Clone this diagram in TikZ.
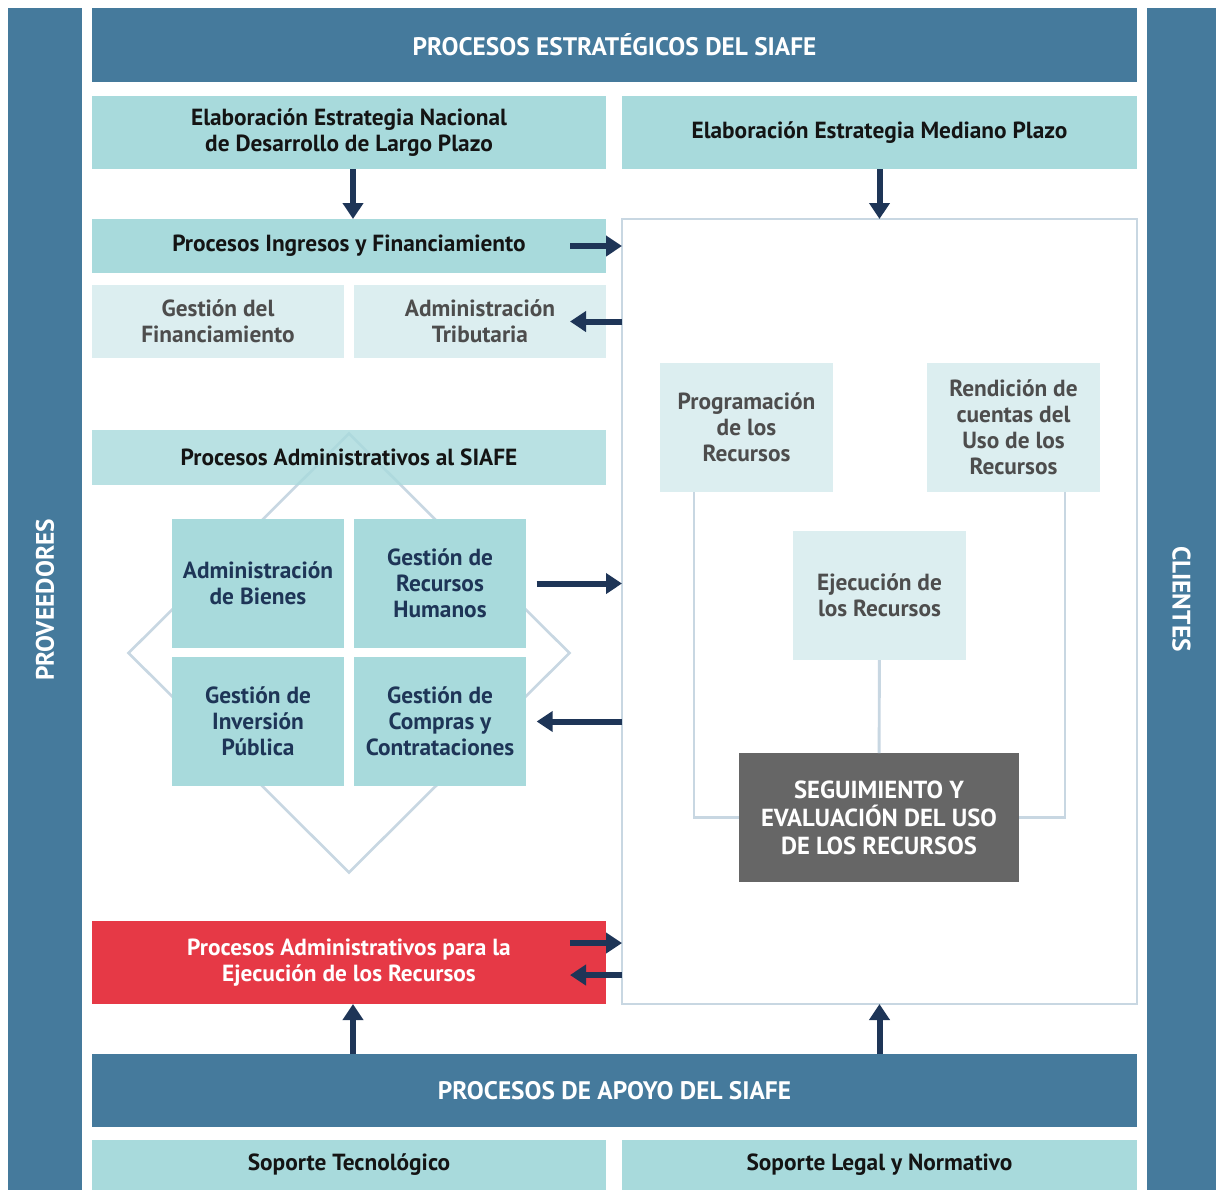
\documentclass[tikz,border=0pt]{standalone}
\usepackage{fontspec}
\setmainfont{PT Sans}
\usetikzlibrary{positioning, shapes.geometric, arrows.meta}
\definecolor{cBanda}{RGB}{69,122,156}
\definecolor{cTurq}{RGB}{168,218,220}
\definecolor{cPalido}{RGB}{220,238,240}
\definecolor{cGrisTxt}{RGB}{77,77,77}
\definecolor{cNavy}{RGB}{30,53,87}
\definecolor{cRojo}{RGB}{230,57,70}
\definecolor{cGrisCaja}{RGB}{102,102,102}
\definecolor{cMarco}{RGB}{200,215,226}
\definecolor{cNegro}{RGB}{20,20,20}

\begin{document}
\begin{tikzpicture}[
  x=0.75pt, y=-0.75pt,
  caja/.style 2 args={rectangle, inner sep=0pt, outer sep=0pt,
    minimum width=#1*0.75pt, minimum height=#2*0.75pt, align=center},
  texto/.style={font=\fontsize{17.5}{19.5}\selectfont\bfseries},
  rotulo/.style={text=white, font=\fontsize{19}{21}\selectfont\bfseries},
  banda/.style={fill=cBanda, rotulo},
  turq/.style={fill=cTurq, text=cNegro, texto},
  azulado/.style={fill=cTurq, text=cNavy, texto},
  palido/.style={fill=cPalido, text=cGrisTxt, texto},
  rojo/.style={fill=cRojo, text=white, texto},
  gris/.style={fill=cGrisCaja, text=white, font=\fontsize{18.5}{21}\selectfont\bfseries},
  marco/.style={draw=cMarco, line width=2.2pt, fill=white},
  rombo/.style={diamond, draw=cMarco, line width=2pt, inner sep=0pt,
    minimum width=442*0.75pt, minimum height=440*0.75pt},
  enlace/.style={draw=cMarco, line width=2.2pt},
  flecha/.style={draw=cNavy, line width=4.5pt, -{Triangle[width=15pt,length=12pt]}}
]
  \useasboundingbox (0,0) rectangle (1216,1190);

  \node[caja={74}{1182}, fill=cBanda] (prov) at (45,599) {};
  \node[rotate=90, rotulo] at ([yshift=-0.75pt]prov) {PROVEEDORES};
  \node[caja={69}{1182}, fill=cBanda] (cli) at (1181.5,599) {};
  \node[rotate=-90, rotulo] at (cli) {CLIENTES};

  \node[caja={1045}{74}, banda] (estrat) at (614.5,45) {PROCESOS ESTRATÉGICOS DEL SIAFE};
  \node[caja={514}{73}, turq] (nacional) at (349,132.5)
    {Elaboración Estrategia Nacional\\de Desarrollo de Largo Plazo};
  \node[caja={515}{73}, turq] (mediano) at (879.5,132.5) {Elaboración Estrategia Mediano Plazo};

  \node[caja={515}{785}, marco] (panel) at (879.5,611.5) {};

  \node[caja={514}{54}, turq] (ingresos) at (349,246) {Procesos Ingresos y Financiamiento};
  \node[caja={252}{73}, palido] (gfin) at (218,321.5) {Gestión del\\Financiamiento};
  \node[caja={252}{73}, palido] (atrib) at (480,321.5) {Administración\\Tributaria};

  \node[rombo] (rombo) at (349,653) {};
  \node[caja={514}{55}, turq, fill opacity=0.8, text opacity=1] (admsiafe) at (349,457.5)
    {Procesos Administrativos al SIAFE};
  \node[caja={172}{129}, azulado] (bienes) at (258,583.5) {Administración\\de Bienes};
  \node[caja={172}{129}, azulado] (rrhh) at (440,583.5) {Gestión de\\Recursos\\Humanos};
  \node[caja={172}{129}, azulado] (inversion) at (258,721.5) {Gestión de\\Inversión\\Pública};
  \node[caja={172}{129}, azulado] (compras) at (440,721.5) {Gestión de\\Compras y\\Contrataciones};

  \node[caja={514}{83}, rojo] (ejecucion) at (349,962.5)
    {Procesos Administrativos para la\\Ejecución de los Recursos};

  \node[caja={1045}{73}, banda] (apoyo) at (614.5,1090.5) {PROCESOS DE APOYO DEL SIAFE};
  \node[caja={514}{50}, turq] (tecno) at (349,1165) {Soporte Tecnológico};
  \node[caja={515}{50}, turq] (legal) at (879.5,1165) {Soporte Legal y Normativo};

  \node[caja={173}{129}, palido] (prog) at (746.5,427.5) {Programación\\de los\\Recursos};
  \node[caja={173}{129}, palido] (rend) at (1013.5,427.5) {Rendición de\\cuentas del\\Uso de los\\Recursos};
  \node[caja={173}{129}, palido] (ejec) at (879.5,595.5) {Ejecución de\\los Recursos};
  \node[caja={280}{129}, gris] (seg) at (879,817.5) {SEGUIMIENTO Y\\EVALUACIÓN DEL USO\\DE LOS RECURSOS};

  \draw[enlace] ([xshift=-39.4pt]prog.south) |- (seg.west);
  \draw[enlace] ([xshift=38.6pt]rend.south) |- (seg.east);
  \draw[enlace] (ejec) -- (seg);

  \draw[flecha] ([xshift=3pt]nacional.south) -- ([xshift=3pt]ingresos.north);
  \draw[flecha] (mediano.south) -- (panel.north);
  \draw[flecha] ([xshift=-27pt]ingresos.east) -- (panel.west |- ingresos);
  \draw[flecha] (panel.west |- atrib) -- ([xshift=-27pt]atrib.east);
  \draw[flecha] ([xshift=8pt]rrhh.east) -- (panel.west |- rrhh);
  \draw[flecha] (panel.west |- compras) -- ([xshift=8pt]compras.east);
  \draw[flecha] ([xshift=-27pt, yshift=14.6pt]ejecucion.east) -- ([yshift=14.6pt]panel.west |- ejecucion);
  \draw[flecha] ([yshift=-9.4pt]panel.west |- ejecucion) -- ([xshift=-27pt, yshift=-9.4pt]ejecucion.east);
  \draw[flecha] ([xshift=3pt]apoyo.north -| ejecucion) -- ([xshift=3pt]ejecucion.south);
  \draw[flecha] (apoyo.north -| panel) -- (panel.south);
\end{tikzpicture}
\end{document}
